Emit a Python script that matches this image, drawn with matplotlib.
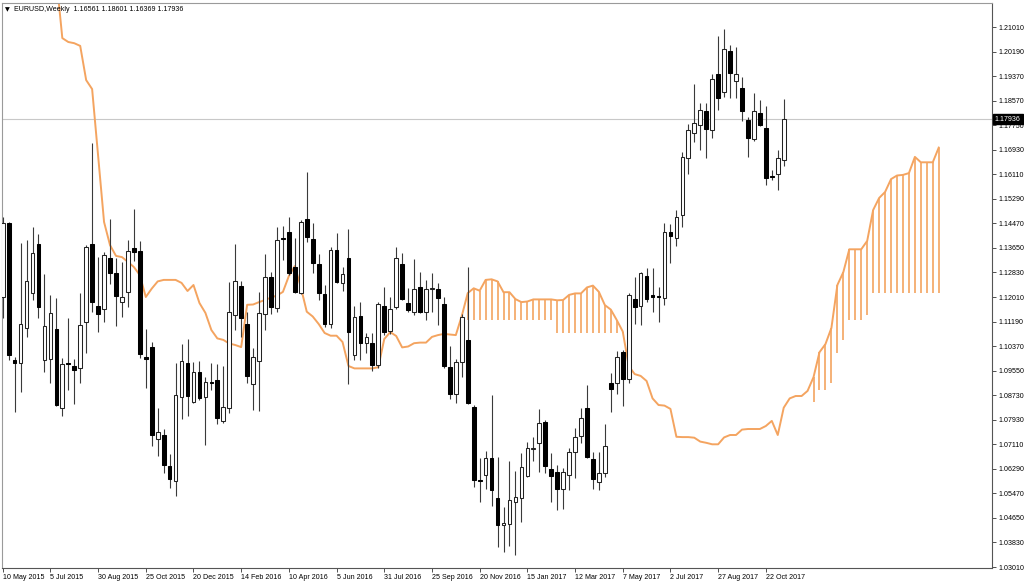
import numpy as np
import matplotlib
matplotlib.use("Agg")
import matplotlib.pyplot as plt
from matplotlib.transforms import blended_transform_factory

plt.rcParams['font.family'] = ['Liberation Sans', 'DejaVu Sans']

# ---------------- data (EURUSD weekly) ----------------
opens = [1.1202, 1.1449, 1.0992, 1.0980, 1.1097, 1.1213, 1.1378, 1.0992, 1.0993, 1.1093,
         1.0832, 1.0982, 1.0971, 1.0965, 1.1119, 1.1378, 1.1172, 1.1161, 1.1330, 1.1282,
         1.1183, 1.1219, 1.1363, 1.1355, 1.1000, 1.1035, 1.0727, 1.0741, 1.0639, 1.0588,
         1.0869, 1.0980, 1.0852, 1.0950, 1.0869, 1.0918, 1.0924, 1.0789, 1.0830, 1.1141,
         1.1238, 1.1111, 1.0911, 1.0989, 1.1143, 1.1269, 1.1163, 1.1398, 1.1417, 1.1300,
         1.1215, 1.1460, 1.1395, 1.1311, 1.1211, 1.1111, 1.1358, 1.1249, 1.1330, 1.1008,
         1.1139, 1.1049, 1.1047, 1.0974, 1.1172, 1.1089, 1.1169, 1.1310, 1.1182, 1.1152,
         1.1233, 1.1152, 1.1228, 1.1227, 1.1178, 1.0969, 1.0878, 1.0984, 1.1058, 1.0833,
         1.0591, 1.0608, 1.0663, 1.0530, 1.0441, 1.0444, 1.0519, 1.0530, 1.0604, 1.0695,
         1.0715, 1.0785, 1.0627, 1.0618, 1.0560, 1.0608, 1.0685, 1.0738, 1.0832, 1.0660,
         1.0585, 1.0615, 1.0915, 1.0913, 1.1019, 1.0927, 1.1194, 1.1171, 1.1271, 1.1206,
         1.1204, 1.1197, 1.1419, 1.1397, 1.1474, 1.1664, 1.1748, 1.1775, 1.1820, 1.1759,
         1.1943, 1.1884, 1.2020, 1.1920, 1.1898, 1.1790, 1.1727, 1.1814, 1.1765, 1.1603,
         1.1612, 1.16561]
highs = [1.1467, 1.1452, 1.1000, 1.1380, 1.1391, 1.1435, 1.1410, 1.1277, 1.1208, 1.1197,
         1.0999, 1.1130, 1.0995, 1.1215, 1.1374, 1.1713, 1.1335, 1.1352, 1.1460, 1.1330,
         1.1319, 1.1391, 1.1494, 1.1389, 1.1093, 1.1052, 1.0830, 1.0761, 1.0678, 1.0980,
         1.1044, 1.1060, 1.0983, 1.0989, 1.0935, 1.0982, 1.0978, 1.0972, 1.1252, 1.1378,
         1.1254, 1.1150, 1.1030, 1.1218, 1.1343, 1.1283, 1.1435, 1.1439, 1.1467, 1.1399,
         1.1458, 1.1617, 1.1447, 1.1346, 1.1241, 1.1367, 1.1415, 1.1302, 1.1428, 1.1171,
         1.1185, 1.1080, 1.1082, 1.1185, 1.1236, 1.1202, 1.1367, 1.1347, 1.1230, 1.1327,
         1.1283, 1.1258, 1.1280, 1.1247, 1.1202, 1.1038, 1.0993, 1.1144, 1.1300, 1.0841,
         1.0663, 1.0689, 1.0874, 1.0669, 1.0502, 1.0655, 1.0622, 1.0680, 1.0719, 1.0735,
         1.0827, 1.0790, 1.0680, 1.0640, 1.0630, 1.0697, 1.0763, 1.0830, 1.0908, 1.0685,
         1.0685, 1.0778, 1.0949, 1.1022, 1.1023, 1.1215, 1.1269, 1.1285, 1.1297, 1.1297,
         1.1236, 1.1447, 1.1445, 1.1491, 1.1684, 1.1779, 1.1912, 1.1849, 1.1846, 1.1943,
         1.2071, 1.2093, 1.2040, 1.2034, 1.1934, 1.1800, 1.1881, 1.1859, 1.1838, 1.1625,
         1.1690, 1.18601]
lows = [1.1130, 1.0992, 1.0819, 1.0885, 1.1069, 1.1191, 1.1130, 1.0952, 1.0913, 1.0838,
        1.0804, 1.0891, 1.0844, 1.0913, 1.1013, 1.1152, 1.1085, 1.1119, 1.1244, 1.1104,
        1.1135, 1.1169, 1.1320, 1.0997, 1.0897, 1.0704, 1.0671, 1.0613, 1.0563, 1.0538,
        1.0793, 1.0804, 1.0847, 1.0858, 1.0708, 1.0890, 1.0778, 1.0782, 1.0815, 1.1091,
        1.1067, 1.0913, 1.0824, 1.0822, 1.1091, 1.1144, 1.1152, 1.1324, 1.1274, 1.1213,
        1.1210, 1.1385, 1.1282, 1.1190, 1.1102, 1.1097, 1.1247, 1.1220, 1.0911, 1.0992,
        1.0992, 1.1015, 1.0955, 1.0963, 1.1074, 1.1078, 1.1160, 1.1190, 1.1152, 1.1141,
        1.1147, 1.1124, 1.1152, 1.1108, 1.0965, 1.0860, 1.0847, 1.0935, 1.0844, 1.0569,
        1.0519, 1.0560, 1.0506, 1.0367, 1.0352, 1.0371, 1.0341, 1.0452, 1.0600, 1.0655,
        1.0619, 1.0613, 1.0519, 1.0491, 1.0494, 1.0558, 1.0597, 1.0714, 1.0663, 1.0560,
        1.0558, 1.0600, 1.0819, 1.0877, 1.0838, 1.0916, 1.1110, 1.1108, 1.1185, 1.1152,
        1.1119, 1.1175, 1.1313, 1.1371, 1.1435, 1.1612, 1.1718, 1.1690, 1.1664, 1.1731,
        1.1823, 1.1868, 1.1865, 1.1864, 1.1787, 1.1668, 1.1720, 1.1770, 1.1573, 1.1590,
        1.1557, 1.16369]
closes = [1.1447, 1.1008, 1.0980, 1.1110, 1.1254, 1.1347, 1.1169, 1.1105, 1.1147, 1.0841,
          1.0978, 1.0978, 1.0958, 1.1108, 1.1367, 1.1185, 1.1144, 1.1341, 1.1280, 1.1204,
          1.1202, 1.1355, 1.1352, 1.1011, 1.0995, 1.0741, 1.0750, 1.0641, 1.0593, 1.0874,
          1.0989, 1.0871, 1.0950, 1.0863, 1.0919, 1.0915, 1.0797, 1.0833, 1.1152, 1.1254,
          1.1130, 1.0939, 1.1000, 1.1149, 1.1267, 1.1167, 1.1391, 1.1393, 1.1280, 1.1219,
          1.1452, 1.1402, 1.1313, 1.1215, 1.1111, 1.1358, 1.1252, 1.1278, 1.1085, 1.1135,
          1.1049, 1.1067, 1.0974, 1.1178, 1.1085, 1.1161, 1.1330, 1.1193, 1.1158, 1.1227,
          1.1152, 1.1227, 1.1232, 1.1197, 1.0971, 1.0878, 1.0984, 1.1135, 1.0847, 1.0591,
          1.0589, 1.0663, 1.0558, 1.0441, 1.0447, 1.0524, 1.0535, 1.0635, 1.0697, 1.0699,
          1.0782, 1.0638, 1.0604, 1.0560, 1.0619, 1.0685, 1.0735, 1.0797, 1.0668, 1.0593,
          1.0613, 1.0704, 1.0893, 1.1000, 1.0927, 1.1206, 1.1169, 1.1282, 1.1194, 1.1202,
          1.1200, 1.1419, 1.1405, 1.1469, 1.1669, 1.1759, 1.1781, 1.1825, 1.1762, 1.1926,
          1.1865, 1.2027, 1.1948, 1.1943, 1.1820, 1.1731, 1.1820, 1.1773, 1.1599, 1.1601,
          1.1664, 1.17936]

# Ichimoku leading span (orange line), starting at bar 9, runs 26 bars past the last candle
span_start = 9
span_a = [1.2264, 1.2064, 1.2051, 1.2047, 1.2038, 1.1924, 1.1894, 1.1674, 1.1451, 1.1374,
          1.1338, 1.1334, 1.1318, 1.1301, 1.1274, 1.1201, 1.1229, 1.1253, 1.1258, 1.1258,
          1.1258, 1.1248, 1.1221, 1.1241, 1.1181, 1.1148, 1.1091, 1.1063, 1.1058, 1.1046,
          1.1041, 1.1034, 1.1175, 1.1176, 1.1184, 1.1191, 1.1199, 1.1206, 1.1218, 1.1271,
          1.1304, 1.1234, 1.1152, 1.1136, 1.1111, 1.1081, 1.1072, 1.1072, 1.1051, 1.0971,
          1.0963, 1.0963, 1.0963, 1.0963, 1.0967, 1.1061, 1.1084, 1.1071, 1.1033, 1.1036,
          1.1047, 1.1049, 1.1049, 1.1068, 1.1074, 1.1078, 1.1076, 1.1074, 1.1138, 1.1214,
          1.1230, 1.1222, 1.1258, 1.1260, 1.1253, 1.1217, 1.1217, 1.1194, 1.1184, 1.1186,
          1.1193, 1.1193, 1.1193, 1.1193, 1.1190, 1.1191, 1.1208, 1.1213, 1.1213, 1.1233,
          1.1239, 1.1218, 1.1174, 1.1159, 1.1124, 1.1086, 1.0971, 1.0944, 1.0938, 1.0921,
          1.0863, 1.0841, 1.0839, 1.0828, 1.0735, 1.0734, 1.0734, 1.0732, 1.0719, 1.0715,
          1.0710, 1.0710, 1.0733, 1.0741, 1.0741, 1.0759, 1.0761, 1.0761, 1.0761, 1.0771,
          1.0788, 1.0741, 1.0832, 1.0863, 1.0871, 1.0871, 1.0888, 1.0934, 1.1017, 1.1044,
          1.1098, 1.1241, 1.1284, 1.1360, 1.1360, 1.1360, 1.1388, 1.1491, 1.1531, 1.1551,
          1.1594, 1.1606, 1.1608, 1.1614, 1.1668, 1.1650, 1.1650, 1.1650, 1.1699]

# lower edge of the hatched cloud where it is visible
cloud_past_start = 77
cloud_b_past = [1.1124] * 16 + [1.1080] * 12
cloud_future_start = 136
cloud_b_future = [1.0852, 1.0891, 1.0891, 1.0913, 1.1013, 1.1058, 1.1124, 1.1124, 1.1124,
                  1.1141] + [1.1215] * 12

x_labels = ["10 May 2015", "5 Jul 2015", "30 Aug 2015", "25 Oct 2015", "20 Dec 2015",
            "14 Feb 2016", "10 Apr 2016", "5 Jun 2016", "31 Jul 2016", "25 Sep 2016",
            "20 Nov 2016", "15 Jan 2017", "12 Mar 2017", "7 May 2017", "2 Jul 2017",
            "27 Aug 2017", "22 Oct 2017"]
y_labels = ["1.21010", "1.20190", "1.19370", "1.18570", "1.17750", "1.16930", "1.16110",
            "1.15290", "1.14470", "1.13650", "1.12830", "1.12010", "1.11190", "1.10370",
            "1.09550", "1.08730", "1.07930", "1.07110", "1.06290", "1.05470", "1.04650",
            "1.03830", "1.03010"]
last_price = 1.17936
title = "EURUSD,Weekly  1.16561 1.18601 1.16369 1.17936"

# ---------------- drawing ----------------
W, H = 1024, 585
fig = plt.figure(figsize=(W / 100, H / 100), dpi=100)
left_px, right_px, top_px, bot_px = 1.5, 992, 2.5, 568
ax = fig.add_axes([left_px / W, 1 - bot_px / H, (right_px - left_px) / W, (bot_px - top_px) / H])

o = np.array(opens); h = np.array(highs); l = np.array(lows); c = np.array(closes)
idx = np.arange(len(o))

sandy = '#F4A460'
# cloud hatching
bp = np.array(cloud_b_past)
xp = np.arange(cloud_past_start, cloud_past_start + len(bp))
ap = np.array(span_a)[xp - span_start]
ax.vlines(xp, bp, ap, color=sandy, lw=1.2, zorder=1)
bf = np.array(cloud_b_future)
xf = np.arange(cloud_future_start, cloud_future_start + len(bf))
af = np.array(span_a)[xf - span_start]
ax.vlines(xf, bf, af, color=sandy, lw=1.2, zorder=1)
# span line
ax.plot(np.arange(span_start, span_start + len(span_a)), span_a, color=sandy, lw=1.4, zorder=2)

# candles
ax.vlines(idx, l, h, color='#3a3a3a', lw=0.8, zorder=3)
up = c >= o
bw = 0.62
ax.bar(idx[up], (c - o)[up], bottom=o[up], width=bw, color='white', edgecolor='#222222',
       linewidth=0.75, zorder=4)
ax.bar(idx[~up], (o - c)[~up], bottom=c[~up], width=bw, color='black', edgecolor='black',
       linewidth=0.75, zorder=4)

# current price line
ax.axhline(last_price, color='#c8c8c8', lw=0.8, zorder=0)

# limits: pixel-mapped
step = 5.962
x0 = 2.7
ax.set_xlim((left_px - x0) / step, (right_px - x0) / step)
p_top, y_top_px = 1.2101, 27.0
scale = 3000.0
ax.set_ylim(p_top - (bot_px - y_top_px) / scale, p_top + (y_top_px - top_px) / scale)

# ticks
ax.set_xticks(np.arange(len(x_labels)) * 8)
ax.set_xticklabels(x_labels, ha='left', fontsize=5.1)
ax.tick_params(axis='x', direction='out', length=3, width=0.6, pad=1.5, color='#333333')
ax.yaxis.tick_right()
ax.set_yticks(np.linspace(1.2101, 1.0301, len(y_labels)))
ax.set_yticklabels(y_labels, fontsize=5.1)
ax.tick_params(axis='y', direction='out', length=3, width=0.6, pad=2, color='#333333')

for side in ['left', 'top']:
    ax.spines[side].set_color('#9a9a9a')
    ax.spines[side].set_linewidth(0.8)
for side in ['right', 'bottom']:
    ax.spines[side].set_color('#555555')
    ax.spines[side].set_linewidth(0.8)

# price box on right axis
tr = blended_transform_factory(ax.transAxes, ax.transData)
ax.text(1.003, last_price, "%.5f" % last_price, transform=tr, fontsize=5.1, color='white',
        va='center', ha='left', zorder=10, clip_on=False,
        bbox=dict(boxstyle='square,pad=0.25', facecolor='black', edgecolor='black'))

# title
fig.text(4.5 / W, 1 - 9.5 / H, "\u25BC", fontsize=4.5, va='center', ha='left', color='black',
         family=['DejaVu Sans'])
fig.text(14 / W, 1 - 9.5 / H, title, fontsize=5.1, va='center', ha='left', color='black')

fig.savefig('out.png', dpi=100, facecolor='white')
